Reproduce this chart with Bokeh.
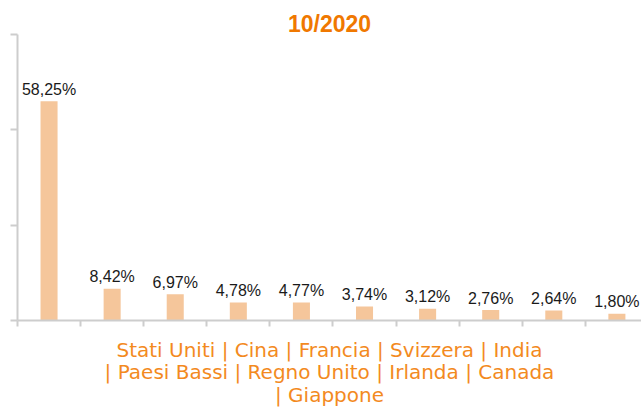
from bokeh.plotting import figure
from bokeh.models import Range1d, FixedTicker, ColumnDataSource
from bokeh.core.properties import value
from bokeh.embed import file_html
from bokeh.resources import INLINE

countries = ["Stati Uniti", "Cina", "Francia", "Svizzera", "India",
             "Paesi Bassi", "Regno Unito", "Irlanda", "Canada", "Giappone"]
shares = [58.25, 8.42, 6.97, 4.78, 4.77, 3.74, 3.12, 2.76, 2.64, 1.80]
title_text = "10/2020"
y_max = 76
y_ticks = [0, y_max / 3, 2 * y_max / 3, y_max]

xs = [i + 0.5 for i in range(len(countries))]
labels = [f"{v:.2f}".replace(".", ",") + "%" for v in shares]
axis_text = (" | ".join(countries[:5]) + "\n| " + " | ".join(countries[5:9])
             + "\n| " + countries[9])

src = ColumnDataSource(dict(x=xs, top=shares, label=labels))

p = figure(width=641, height=410, output_backend="svg", toolbar_location=None,
           x_range=Range1d(0, 9.89), y_range=Range1d(0, y_max),
           min_border_left=17, min_border_right=0, min_border_top=34, min_border_bottom=0)
p.outline_line_color = None
p.xgrid.visible = False
p.ygrid.visible = False
p.background_fill_color = "white"
p.border_fill_color = "white"

p.title.text = title_text
p.title.align = "center"
p.title.vertical_align = "bottom"
p.title.text_font = "Liberation Sans"
p.title.text_font_size = "23px"
p.title.text_font_style = "bold"
p.title.text_color = "#F07800"
p.title.standoff = -4
p.title.offset = 0

p.vbar(x="x", top="top", bottom=0, width=0.27, source=src,
       fill_color="#F5C69B", line_color=None)
p.text(x="x", y="top", text="label", source=src, text_align="center",
       text_baseline="alphabetic", y_offset=-12,
       text_font=value("Liberation Sans"), text_font_size="16px", text_color="#1A1A1A")

grey = "#CDCDCD"
ya = p.yaxis[0]
ya.ticker = FixedTicker(ticks=y_ticks)
ya.axis_line_color = grey
ya.axis_line_width = 2
ya.major_tick_line_color = grey
ya.major_tick_line_width = 2
ya.major_tick_out = 7
ya.major_tick_in = 0
ya.minor_tick_line_color = None
ya.major_label_overrides = {t: "" for t in y_ticks}
ya.major_label_standoff = 0

x_ticks = list(range(len(countries)))
xa = p.xaxis[0]
xa.ticker = FixedTicker(ticks=x_ticks)
xa.axis_line_color = grey
xa.axis_line_width = 2
xa.major_tick_line_color = grey
xa.major_tick_line_width = 2
xa.major_tick_out = 6
xa.major_tick_in = 0
xa.minor_tick_line_color = None
xa.major_label_overrides = {t: "" for t in x_ticks}
xa.major_label_standoff = 0
xa.axis_label = axis_text
xa.axis_label_text_font = "DejaVu Sans"
xa.axis_label_text_font_size = "20px"
xa.axis_label_text_font_style = "normal"
xa.axis_label_text_color = "#F38A1E"
xa.axis_label_standoff = 11
xa.axis_label_text_line_height = 0.95

open("out.html", "w").write(file_html(p, INLINE))
